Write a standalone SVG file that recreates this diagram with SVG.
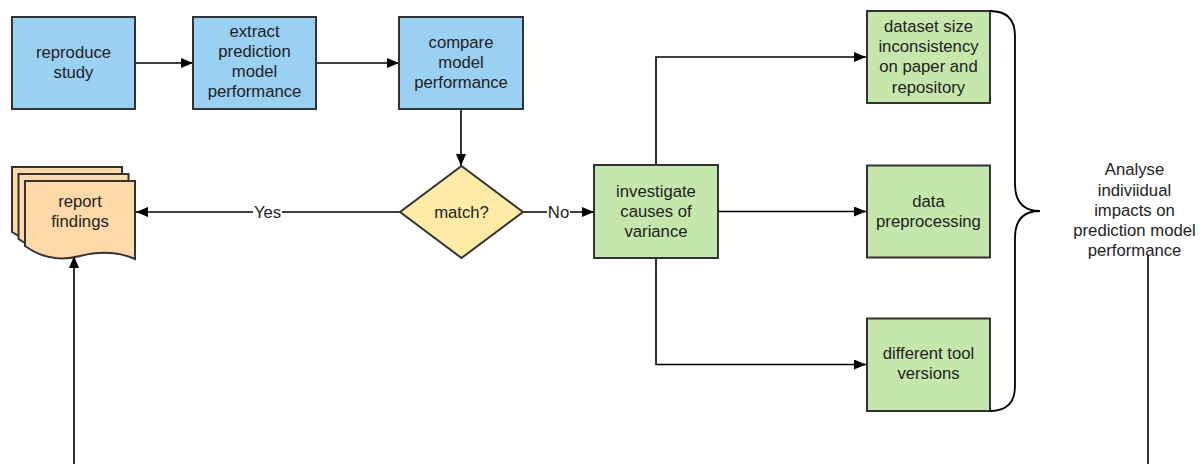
<svg xmlns="http://www.w3.org/2000/svg" width="1204" height="464" viewBox="0 0 1204 464">
  <defs>
    <marker id="arrow" viewBox="0 0 12 10" refX="12" refY="5" markerWidth="12" markerHeight="10" markerUnits="userSpaceOnUse" orient="auto">
      <path d="M0,0 L12,5 L0,10 Z" fill="#000"/>
    </marker>
    <path id="docShape" d="M0,0 H110 V78 Q85,67 55,75 T0,65 Z"/>
  </defs>
  <style>
    text { font-family: "Liberation Sans", Arial, sans-serif; font-size: 16.7px; fill: #222; text-anchor: middle; }
    .node { stroke: #333; stroke-width: 2; }
    .blue { fill: #9ad0f2; }
    .green { fill: #c6e7ac; }
    .yellow { fill: #ffeaa6; }
    .orange { fill: #ffd9a8; }
    .edge { fill: none; stroke: #000; stroke-width: 1.6; }
    .brace { fill: none; stroke: #000; stroke-width: 1.8; }
  </style>

  <rect width="1204" height="464" fill="#fff"/>

  <!-- connectors -->
  <g id="connectors">
    <line class="edge" x1="135" y1="63" x2="193" y2="63" marker-end="url(#arrow)"/>
    <line class="edge" x1="316" y1="63" x2="399" y2="63" marker-end="url(#arrow)"/>
    <line class="edge" x1="461" y1="109" x2="461" y2="166" marker-end="url(#arrow)"/>
    <line class="edge" x1="400" y1="212" x2="136" y2="212" marker-end="url(#arrow)"/>
    <rect x="253" y="200" width="29" height="22" fill="#fff"/>
    <text x="267.5" y="217.5">Yes</text>
    <line class="edge" x1="523" y1="212" x2="594" y2="212" marker-end="url(#arrow)"/>
    <rect x="547" y="200" width="23" height="22" fill="#fff"/>
    <text x="558.5" y="217.5">No</text>
    <polyline class="edge" points="656,165 656,57 866,57" marker-end="url(#arrow)"/>
    <line class="edge" x1="718" y1="211.5" x2="866" y2="211.5" marker-end="url(#arrow)"/>
    <polyline class="edge" points="656,258 656,364.5 866,364.5" marker-end="url(#arrow)"/>
    <line class="edge" x1="74" y1="464" x2="74" y2="256" marker-end="url(#arrow)"/>
    <line class="edge" x1="1148" y1="255" x2="1148" y2="464"/>
  </g>

  <g id="reproduce-study">
    <rect class="node blue" x="12" y="17" width="123" height="92"/>
    <text x="73.5" y="58">reproduce</text>
    <text x="73.5" y="78">study</text>
  </g>

  <g id="extract-performance">
    <rect class="node blue" x="193" y="17" width="123" height="92"/>
    <text x="254.5" y="37">extract</text>
    <text x="254.5" y="57">prediction</text>
    <text x="254.5" y="77">model</text>
    <text x="254.5" y="97">performance</text>
  </g>

  <g id="compare-performance">
    <rect class="node blue" x="399" y="17" width="124" height="92"/>
    <text x="461" y="47.5">compare</text>
    <text x="461" y="67.5">model</text>
    <text x="461" y="87.5">performance</text>
  </g>

  <g id="match">
    <polygon class="node yellow" points="461.5,166 523,212 461.5,258 400,212"/>
    <text x="461.5" y="217.5">match?</text>
  </g>

  <g id="report-findings">
    <use href="#docShape" class="node orange" x="12" y="167"/>
    <use href="#docShape" class="node orange" x="18.5" y="174"/>
    <use href="#docShape" class="node orange" x="25" y="181"/>
    <text x="80" y="207">report</text>
    <text x="80" y="227">findings</text>
  </g>

  <g id="investigate-causes">
    <rect class="node green" x="594" y="165" width="124" height="93"/>
    <text x="656" y="197">investigate</text>
    <text x="656" y="217">causes of</text>
    <text x="656" y="237">variance</text>
  </g>

  <g id="dataset-size">
    <rect class="node green" x="867" y="11" width="123" height="92"/>
    <text x="928.5" y="32">dataset size</text>
    <text x="928.5" y="52">inconsistency</text>
    <text x="928.5" y="72">on paper and</text>
    <text x="928.5" y="92.5">repository</text>
  </g>

  <g id="data-preprocessing">
    <rect class="node green" x="867" y="165.5" width="123" height="92"/>
    <text x="928.5" y="207">data</text>
    <text x="928.5" y="227">preprocessing</text>
  </g>

  <g id="tool-versions">
    <rect class="node green" x="867" y="318.5" width="123" height="92.5"/>
    <text x="928.5" y="358.5">different tool</text>
    <text x="928.5" y="378.5">versions</text>
  </g>

  <g id="impact-brace">
    <path class="brace" d="M990,11 Q1015,11 1015,36 L1015,184 Q1015,211 1040,211 Q1015,211 1015,238 L1015,386 Q1015,411 990,411"/>
  </g>

  <g id="analyse-impacts">
    <text x="1134.5" y="175">Analyse</text>
    <text x="1134.5" y="195.5">indiviidual</text>
    <text x="1134.5" y="216">impacts on</text>
    <text x="1134.5" y="236">prediction model</text>
    <text x="1134.5" y="256">performance</text>
  </g>
</svg>
